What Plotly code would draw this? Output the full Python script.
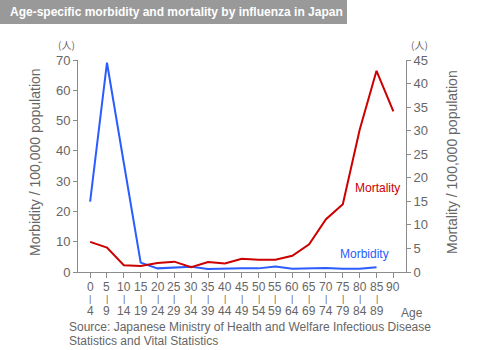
import plotly.graph_objects as go

age_start = [0, 5, 10, 15, 20, 25, 30, 35, 40, 45, 50, 55, 60, 65, 70, 75, 80, 85, 90]
age_end = [4, 9, 14, 19, 24, 29, 34, 39, 44, 49, 54, 59, 64, 69, 74, 79, 84, 89, None]
morbidity = [23.2, 69.1, 36.0, 3.1, 1.2, 1.5, 1.7, 1.0, 1.2, 1.2, 1.2, 1.8, 1.1, 1.2, 1.3, 1.1, 1.1, 1.6, None]
mortality = [6.4, 5.2, 1.45, 1.3, 1.9, 2.2, 1.0, 2.1, 1.8, 2.8, 2.6, 2.6, 3.45, 5.9, 11.2, 14.4, 30.2, 42.7, 34.1]

title_text = "Age-specific morbidity and mortality by influenza in Japan"
left_title = "Morbidity / 100,000 population"
right_title = "Mortality / 100,000 population"
source_lines = ["Source: Japanese Ministry of Health and Welfare Infectious Disease",
                "Statistics and Vital Statistics"]

W, H = 480, 350
L, R, T, B = 78, 74, 60, 78
PW, PH = W - L - R, H - T - B
FONT = "Liberation Sans, Arial, sans-serif"
GRAY = "#666666"
AXC = "#8c8c8c"
BLUE = "#2a5cff"
RED = "#cc0000"


def px(xp):
    return (xp - L) / PW


def py(yp):
    return (H - B - yp) / PH


idx = list(range(len(age_start)))

fig = go.Figure()
fig.add_trace(go.Scatter(x=idx, y=morbidity, mode="lines", line=dict(color=BLUE, width=2),
                         yaxis="y", showlegend=False))
fig.add_trace(go.Scatter(x=idx, y=mortality, mode="lines", line=dict(color=RED, width=2),
                         yaxis="y2", showlegend=False))

ann = []
# title bar text
ann.append(dict(text="<b>" + title_text + "</b>", xref="paper", yref="paper",
                x=px(8), y=py(12), xanchor="left", yanchor="middle", showarrow=False,
                font=dict(family=FONT, size=12, color="white")))
# unit labels
for xc in (66, 419):
    ann.append(dict(text="(人)", xref="paper", yref="paper", x=px(xc), y=py(44),
                    xanchor="center", yanchor="middle", showarrow=False,
                    font=dict(family="Noto Sans CJK JP", size=10, color=GRAY)))
# axis titles
ann.append(dict(text=left_title, xref="paper", yref="paper", x=px(35), y=py(162),
                textangle=-90, xanchor="center", yanchor="middle", showarrow=False,
                font=dict(family=FONT, size=14, color=GRAY)))
ann.append(dict(text=right_title, xref="paper", yref="paper", x=px(452), y=py(162),
                textangle=-90, xanchor="center", yanchor="middle", showarrow=False,
                font=dict(family=FONT, size=14, color=GRAY)))
# x tick rows
for i, (a, b) in enumerate(zip(age_start, age_end)):
    ann.append(dict(text=str(a), xref="x", yref="paper", x=i, y=py(287),
                    xanchor="center", yanchor="middle", showarrow=False,
                    font=dict(family=FONT, size=12, color=GRAY)))
    if b is not None:
        ann.append(dict(text="|", xref="x", yref="paper", x=i, y=py(299),
                        xanchor="center", yanchor="middle", showarrow=False,
                        font=dict(family=FONT, size=9, color=GRAY)))
        ann.append(dict(text=str(b), xref="x", yref="paper", x=i, y=py(311),
                        xanchor="center", yanchor="middle", showarrow=False,
                        font=dict(family=FONT, size=12, color=GRAY)))
ann.append(dict(text="Age", xref="paper", yref="paper", x=px(412), y=py(313),
                xanchor="center", yanchor="middle", showarrow=False,
                font=dict(family=FONT, size=12, color=GRAY)))
# series labels
ann.append(dict(text="Mortality", xref="paper", yref="paper", x=px(377), y=py(188),
                xanchor="center", yanchor="middle", showarrow=False,
                font=dict(family=FONT, size=12, color=RED)))
ann.append(dict(text="Morbidity", xref="paper", yref="paper", x=px(364), y=py(254),
                xanchor="center", yanchor="middle", showarrow=False,
                font=dict(family=FONT, size=12, color=BLUE)))
# source
for k, line in enumerate(source_lines):
    ann.append(dict(text=line, xref="paper", yref="paper", x=px(67), y=py(327 + 14 * k),
                    xanchor="left", yanchor="middle", showarrow=False,
                    font=dict(family=FONT, size=12, color=GRAY)))

shapes = [dict(type="rect", xref="paper", yref="paper", x0=px(0), x1=px(347),
               y0=py(24), y1=py(0), fillcolor="#999999", line=dict(width=0), layer="below")]

fig.update_layout(
    width=W, height=H, margin=dict(l=L, r=R, t=T, b=B, autoexpand=False),
    paper_bgcolor="white", plot_bgcolor="white",
    annotations=ann, shapes=shapes,
    xaxis=dict(range=[-0.72, 18.75], tickvals=idx, showticklabels=False, ticks="outside",
               ticklen=5, tickcolor=AXC, showline=True, linecolor=AXC, linewidth=1,
               showgrid=False, zeroline=False, fixedrange=True),
    yaxis=dict(range=[0, 70], dtick=10, ticks="outside", ticklen=4, tickcolor=AXC,
               showline=True, linecolor=AXC, linewidth=1, showgrid=False, zeroline=False,
               tickfont=dict(family=FONT, size=13, color=GRAY)),
    yaxis2=dict(range=[0, 45], dtick=5, overlaying="y", side="right", ticks="outside",
                ticklen=4, tickcolor=AXC, showline=True, linecolor=AXC, linewidth=1,
                showgrid=False, zeroline=False,
                tickfont=dict(family=FONT, size=13, color=GRAY)),
)

fig.write_html("out.html")
